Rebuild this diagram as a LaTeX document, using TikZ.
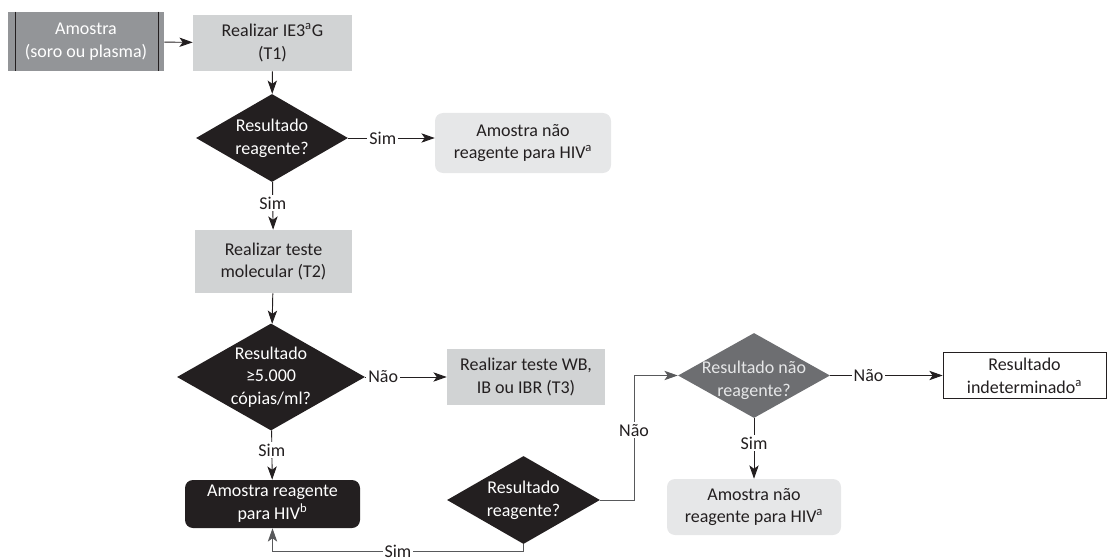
\documentclass[tikz,border=0pt]{standalone}
\usepackage{fontspec}
\setmainfont{Carlito}
\usetikzlibrary{shapes.geometric,arrows.meta}
\definecolor{cinzaesc}{HTML}{939598}
\definecolor{cinzacl}{HTML}{D1D3D4}
\definecolor{cinzafd}{HTML}{E6E7E8}
\definecolor{cinzamd}{HTML}{6D6E71}
\definecolor{cinzaln}{HTML}{58595B}
\definecolor{preto}{HTML}{231F20}
\begin{document}
\begin{tikzpicture}[x=.75pt,y=-.75pt,
		font=\fontsize{13.5}{17}\selectfont,
		caixa/.style={rectangle,inner sep=0pt,align=center,text=preto},
		losango/.style={diamond,aspect=1.75,inner sep=-6pt,align=center,fill=preto,text=white},
		seta/.style={-{Stealth[length=10pt,width=7pt,inset=2.5pt]},line width=.7pt,preto},
		rotulo/.style={fill=white,inner sep=1.5pt,text=preto}]
	\useasboundingbox (0,0) rectangle (1107,560);
	\node [caixa,fill=cinzaesc,text=white,minimum width=117pt,minimum height=44.25pt] (amostra) at (86,41.5) {Amostra\\(soro ou plasma)};
	\draw [line width=.8pt,preto] ([xshift=6pt]amostra.north west) -- ([xshift=6pt]amostra.south west);
	\draw [line width=.8pt,preto] ([xshift=-4.5pt]amostra.north east) -- ([xshift=-4.5pt]amostra.south east);
	\node [caixa,fill=cinzacl,minimum width=119.25pt,minimum height=42pt] (t1) at (272.5,43) {Realizar IE3\textsuperscript{a}G\\(T1)};
	\node [losango,minimum width=114pt,minimum height=66pt] (d1) at (272,138) {Resultado\\reagente?};
	\node [caixa,fill=cinzafd,rounded corners=6pt,minimum width=132pt,minimum height=45pt] (n1) at (523,143) {Amostra não\\reagente para HIV\textsuperscript{a}};
	\node [caixa,fill=cinzacl,minimum width=117.75pt,minimum height=47.25pt] (t2) at (273.5,261.5) {Realizar teste\\molecular (T2)};
	\node [losango,minimum width=141pt,minimum height=80.25pt] (d2) at (271,377) {Resultado\\≥5.000\\cópias/ml?};
	\node [caixa,fill=cinzacl,minimum width=118.5pt,minimum height=42pt] (t3) at (526,377) {Realizar teste WB,\\IB ou IBR (T3)};
	\node [caixa,fill=preto,text=white,rounded corners=6pt,minimum width=131.25pt,minimum height=36pt] (n2) at (272.5,504) {Amostra reagente\\para HIV\textsuperscript{b}};
	\node [losango,minimum width=114.75pt,minimum height=66pt] (d3) at (523.5,500) {Resultado\\reagente?};
	\node [losango,fill=cinzamd,minimum width=114pt,minimum height=63.75pt,
		label={[align=center,text=cinzafd,yshift=-3.5pt]center:Resultado não\\reagente?}] (d4) at (754,375.5) {};
	\node [caixa,draw=preto,line width=.5pt,fill=white,minimum width=122.25pt,minimum height=34.5pt] (fim) at (1024.5,375.5) {Resultado\\indeterminado\textsuperscript{a}};
	\node [caixa,fill=cinzafd,rounded corners=6pt,minimum width=130.5pt,minimum height=42pt] (n3) at (754,507) {Amostra não\\reagente para HIV\textsuperscript{a}};
	\coordinate (volta) at (272.5,551);
	\coordinate (subida) at (634,375.5);
	\draw [seta] (amostra) -- (t1);
	\draw [seta] (t1) -- (d1);
	\draw [seta] (d1.east) -- node [rotulo,pos=.4] {Sim} (d1.east -| n1.west);
	\draw [seta] (d1) -- node [rotulo,pos=.44] {Sim} (t2);
	\draw [seta] (t2) -- (d2);
	\draw [seta] (d2) -- node [rotulo,pos=.22] {Não} (t3);
	\draw [seta] (d2) -- node [rotulo,pos=.4] {Sim} (n2);
	\draw [seta,cinzaln] (d3.south) |- node [rotulo,pos=.75,inner ysep=0pt] {Sim} (volta) -- (n2.south);
	\draw [seta,cinzaln] (d3.east) -| node [rotulo,pos=.78] {Não} (subida) -- (d4.west);
	\draw [seta] (d4) -- node [rotulo,pos=.34] {Não} (fim);
	\draw [seta] (d4) -- node [rotulo,pos=.41] {Sim} (n3);
\end{tikzpicture}
\end{document}
